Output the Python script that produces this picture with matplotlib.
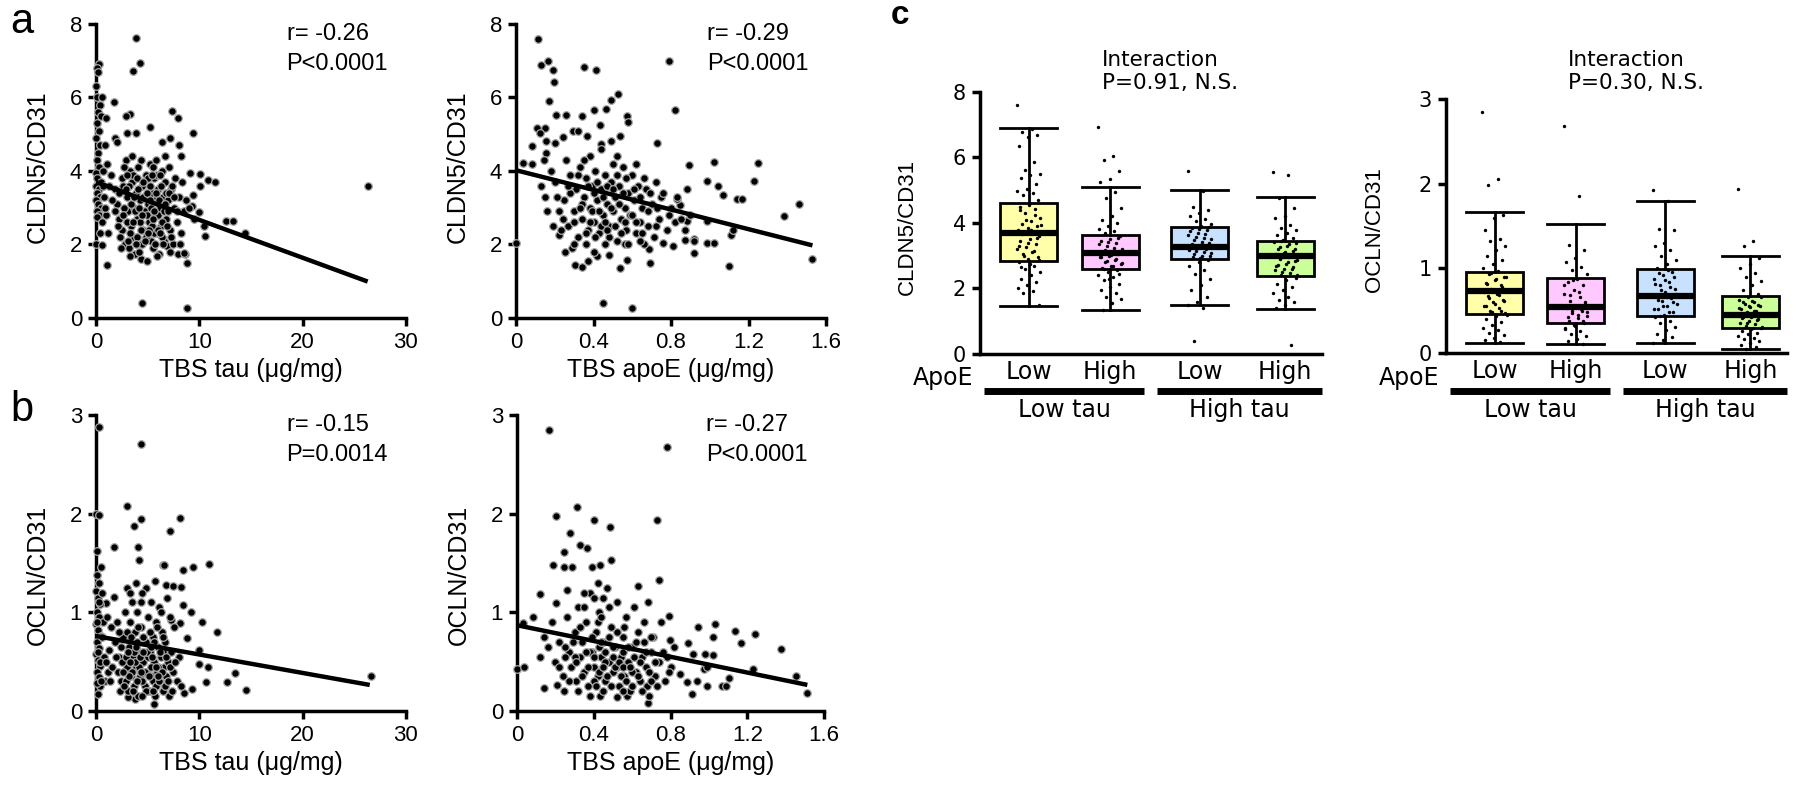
import numpy as np
import matplotlib
matplotlib.use("Agg")
import matplotlib.pyplot as plt

plt.rcParams['font.family'] = ['Liberation Sans', 'DejaVu Sans']

# ---- panel a left: TBS tau vs CLDN5/CD31 (x, y) ----
a1_points = [
    (0.3, 6.9), (0.1, 6.8), (0.2, 6.7), (0.05, 6.3), (0.15, 6.0), (0.4, 5.8), (0.2, 5.6), (0.5, 5.5),
    (0.1, 5.3), (0.3, 5.1), (0.05, 4.9), (0.4, 4.7), (0.2, 4.5), (0.1, 4.3), (0.3, 4.1), (0.05, 3.95),
    (0.15, 3.8), (0.5, 3.7), (0.0, 3.6), (0.25, 3.5), (0.1, 3.4), (0.35, 3.3), (0.05, 3.2), (0.2, 3.1),
    (0.45, 3.0), (0.1, 2.9), (0.3, 2.8), (0.15, 2.75), (0.0, 2.0), (0.6, 1.98), (1.0, 5.45), (0.9, 4.7),
    (0.7, 4.0), (0.8, 3.3), (0.6, 6.0),
    (1.5, 3.9), (1.8, 3.5), (2.0, 3.1), (2.2, 2.7), (2.5, 2.4), (2.6, 3.6), (2.8, 2.0), (3.0, 3.3),
    (3.1, 2.9), (3.2, 1.9), (3.3, 4.0), (3.4, 2.5), (3.5, 3.7), (3.6, 2.2), (3.7, 3.0), (3.8, 1.75),
    (3.9, 3.4), (4.0, 2.7), (4.1, 4.1), (4.2, 2.0), (4.3, 3.2), (4.4, 1.6), (4.5, 3.6), (4.6, 2.4),
    (4.7, 2.9), (4.8, 3.9), (4.9, 1.55), (5.0, 3.1), (5.1, 2.6), (5.2, 4.2), (5.3, 2.1), (5.4, 3.4),
    (5.5, 1.9), (5.6, 3.8), (5.7, 2.8), (5.8, 4.3), (5.9, 2.3), (6.0, 3.5), (6.1, 1.75), (6.2, 3.0),
    (6.3, 2.5), (6.4, 4.0), (6.5, 3.3), (6.6, 2.1), (6.7, 3.7), (6.8, 2.7), (6.9, 1.95), (7.0, 3.2),
    (7.1, 4.1), (7.2, 2.4), (7.3, 3.5), (7.5, 2.0), (7.6, 3.0), (7.7, 3.8), (7.8, 2.6), (7.9, 1.75),
    (8.0, 3.3), (8.2, 2.3), (8.3, 3.7), (8.5, 2.9), (8.6, 1.75), (1.2, 2.3), (1.0, 2.8), (2.4, 1.9),
    (2.9, 4.3), (3.5, 4.4), (4.4, 4.3), (5.5, 4.1), (6.7, 4.4), (2.7, 3.0), (3.2, 3.6), (3.8, 2.9),
    (4.1, 3.5), (4.3, 2.6), (4.6, 3.3), (4.9, 2.8), (5.2, 3.6), (5.4, 2.5), (5.7, 3.2), (6.0, 2.8),
    (6.3, 3.6), (6.6, 2.9), (3.3, 2.3), (4.0, 2.2), (4.8, 2.2), (5.6, 2.3), (6.4, 2.2), (2.2, 3.4),
    (1.8, 2.9), (2.5, 3.8), (3.6, 3.9), (5.0, 3.8), (5.9, 3.9), (7.4, 3.6), (7.0, 2.9), (3.0, 2.6),
    (4.5, 2.0), (5.3, 3.0), (6.8, 3.4),
    (2.3, 2.2), (2.6, 2.8), (2.9, 3.5), (3.1, 2.1), (3.4, 3.1), (3.6, 2.6), (3.9, 2.0), (4.0, 3.8),
    (4.2, 3.0), (4.4, 2.4), (4.6, 3.7), (4.7, 2.1), (4.9, 3.4), (5.1, 2.4), (5.2, 3.2), (5.4, 3.9),
    (5.5, 2.7), (5.7, 2.0), (5.8, 3.4), (6.0, 2.4), (6.1, 3.2), (6.2, 3.9), (6.4, 2.6), (6.5, 2.0),
    (6.7, 3.1), (6.9, 2.5), (7.1, 3.4), (7.3, 2.2), (7.6, 3.3), (7.8, 2.9), (3.0, 3.9), (3.7, 3.3),
    (4.5, 2.8), (5.0, 2.3), (5.6, 2.9), (6.2, 2.3), (2.1, 2.5), (1.6, 3.2), (1.3, 3.6), (0.9, 3.0),
    (0.6, 2.6), (0.4, 2.3), (0.7, 3.6), (1.1, 4.2), (2.7, 4.1), (4.2, 1.8), (5.9, 1.7), (3.3, 1.7),
    (7.2, 1.8), (8.1, 2.0),
    (3.87, 7.62), (4.3, 6.94), (3.6, 6.71), (1.74, 5.87), (3.3, 5.55), (2.9, 5.49), (7.4, 5.64),
    (7.9, 5.44), (5.2, 5.2), (9.35, 5.03), (3.9, 5.03), (2.97, 5.03), (1.8, 4.9), (2.0, 4.8), (7.2, 4.9),
    (6.35, 4.79), (8.0, 4.7), (8.2, 4.4), (10.06, 3.93), (9.1, 3.95), (10.8, 3.76), (11.5, 3.69),
    (10.06, 3.6), (26.3, 3.6), (9.4, 3.36), (9.26, 3.04), (10.0, 2.88), (12.6, 2.63), (13.3, 2.63),
    (10.5, 2.5), (10.6, 2.22), (14.4, 2.31), (8.8, 1.5), (8.5, 1.77), (1.03, 1.45), (4.5, 0.41),
    (8.8, 0.26), (9.0, 3.0), (8.7, 3.2), (9.5, 2.7),
]
a1_fit = (3.70, -0.103, 26.3)  # intercept, slope, last x

# ---- panel a right: TBS apoE vs CLDN5/CD31 ----
a2_points = [
    (0.115, 7.6), (0.167, 6.98), (0.13, 6.89), (0.193, 6.76), (0.196, 6.41), (0.35, 6.83), (0.413, 6.74),
    (0.787, 6.98), (0.172, 5.9), (0.528, 6.1), (0.489, 5.94), (0.82, 5.67), (0.40, 5.67), (0.465, 5.69),
    (0.571, 5.49), (0.58, 5.32), (0.207, 5.53), (0.26, 5.53), (0.34, 5.49), (0.434, 5.26), (0.107, 5.17),
    (0.15, 5.17), (0.124, 5.03), (0.155, 4.81), (0.155, 4.49), (0.2, 4.76), (0.296, 5.08), (0.32, 5.08),
    (0.365, 4.94), (0.537, 4.94), (0.489, 4.81), (0.244, 4.93), (0.73, 4.76), (0.44, 4.74), (0.08, 4.67),
    (0.038, 4.22), (0.084, 4.18), (0.145, 4.29), (0.895, 4.17), (1.02, 4.24), (1.25, 4.22), (1.23, 3.72),
    (0.988, 3.72), (1.04, 3.58), (1.07, 3.36), (1.14, 3.25), (1.165, 3.25), (1.46, 3.11), (1.385, 2.78),
    (1.527, 1.6), (1.1, 1.41), (0.916, 1.77), (0.985, 2.04), (1.02, 2.04), (1.11, 2.27), (1.12, 2.4),
    (0.92, 2.16), (0.873, 2.13), (0.985, 2.63), (0.0, 2.04), (0.22, 2.27), (0.253, 1.79), (0.305, 1.45),
    (0.342, 1.39), (0.37, 1.54), (0.447, 0.41), (0.6, 0.27), (0.534, 1.36), (0.417, 1.68), (0.482, 1.72),
    (0.571, 1.59), (0.69, 1.5), (0.688, 1.88), (0.76, 2.04), (0.81, 1.95), (0.88, 2.63), (0.847, 3.08),
    (0.83, 3.24),
    (0.25, 3.2), (0.27, 2.5), (0.28, 3.9), (0.3, 2.9), (0.31, 3.5), (0.32, 2.2), (0.33, 4.1), (0.34, 2.7),
    (0.35, 3.3), (0.36, 3.8), (0.37, 2.4), (0.38, 3.0), (0.39, 3.6), (0.4, 2.6), (0.41, 4.0), (0.42, 3.2),
    (0.43, 2.3), (0.44, 3.5), (0.45, 2.8), (0.46, 3.9), (0.47, 3.1), (0.48, 2.5), (0.49, 3.7), (0.5, 2.9),
    (0.51, 3.3), (0.52, 2.1), (0.53, 3.6), (0.54, 2.7), (0.55, 4.1), (0.56, 3.0), (0.57, 2.4), (0.58, 3.4),
    (0.59, 2.8), (0.6, 3.9), (0.61, 3.2), (0.62, 2.3), (0.63, 3.6), (0.64, 2.6), (0.65, 3.0), (0.66, 2.0),
    (0.67, 3.5), (0.68, 2.5), (0.7, 3.1), (0.71, 2.2), (0.72, 3.7), (0.74, 2.7), (0.75, 3.3), (0.78, 2.4),
    (0.8, 3.0), (0.82, 2.6), (0.85, 2.7), (0.88, 3.5), (0.9, 2.8), (0.92, 2.1), (0.2, 3.7), (0.22, 2.9),
    (0.18, 4.0), (0.15, 3.3), (0.13, 3.6), (0.16, 2.9), (0.23, 2.4), (0.26, 4.3), (0.38, 4.4), (0.44, 4.6),
    (0.52, 4.4), (0.62, 4.2), (0.29, 1.9), (0.4, 1.8), (0.46, 2.0), (0.56, 2.0), (0.64, 2.1), (0.36, 2.0),
    (0.28, 3.4), (0.3, 2.6), (0.32, 3.9), (0.34, 3.1), (0.36, 2.3), (0.37, 3.6), (0.39, 2.9), (0.4, 3.4),
    (0.41, 2.2), (0.42, 3.7), (0.43, 2.9), (0.44, 2.5), (0.45, 3.3), (0.46, 2.6), (0.47, 3.6), (0.48, 2.2),
    (0.49, 3.0), (0.5, 3.5), (0.51, 2.5), (0.52, 3.9), (0.53, 3.1), (0.54, 2.3), (0.55, 3.4), (0.56, 2.6),
    (0.57, 3.8), (0.58, 2.0), (0.6, 2.8), (0.61, 3.5), (0.62, 2.6), (0.64, 3.3), (0.65, 2.3), (0.66, 3.8),
    (0.68, 2.9), (0.69, 3.4), (0.72, 2.5), (0.73, 3.0), (0.76, 3.4), (0.79, 2.8), (0.83, 3.3), (0.87, 2.4),
    (0.33, 3.0), (0.38, 2.6), (0.47, 2.4), (0.5, 4.2), (0.35, 4.3), (0.27, 3.6), (0.24, 2.7), (0.21, 3.3),
    (0.19, 2.5), (0.3, 2.0),
]
a2_fit = (4.02, -1.336, 1.53)

# ---- panel b left: TBS tau vs OCLN/CD31 ----
b1_points = [
    (0.32, 2.875), (4.4, 2.71), (0.0, 2.0), (0.3, 1.99), (3.0, 2.08), (4.4, 1.95), (3.7, 1.875), (8.1, 1.96),
    (7.2, 1.82), (1.7, 1.66), (4.1, 1.66), (4.2, 1.53), (0.13, 1.62), (0.45, 1.46), (6.5, 1.48), (6.6, 1.48),
    (9.4, 1.46), (10.9, 1.49), (8.4, 1.43), (5.7, 1.32), (6.8, 1.28), (7.5, 1.27), (8.2, 1.26), (3.9, 1.3),
    (3.0, 1.25), (4.8, 1.25), (1.7, 1.16), (1.0, 1.09), (8.4, 1.07), (9.2, 1.0), (10.3, 0.9), (7.3, 0.92),
    (8.1, 0.89), (11.7, 0.8), (8.8, 0.74), (10.0, 0.62), (10.8, 0.45), (10.0, 0.48), (10.7, 0.29),
    (12.7, 0.29), (13.5, 0.39), (14.5, 0.21), (9.3, 0.22), (8.5, 0.18), (26.6, 0.36), (5.6, 0.07),
    (3.8, 0.12), (3.1, 0.145), (0.16, 0.17), (0.4, 0.25),
    (0.1, 1.38), (0.3, 1.3), (0.05, 1.22), (0.2, 1.15), (0.4, 1.08), (0.1, 1.0), (0.3, 0.95), (0.05, 0.88),
    (0.2, 0.82), (0.45, 0.76), (0.1, 0.7), (0.3, 0.64), (0.05, 0.58), (0.2, 0.52), (0.4, 0.46), (0.1, 0.4),
    (0.3, 0.34), (0.15, 0.28), (0.6, 1.2), (0.7, 0.9), (0.8, 0.55), (0.9, 0.3), (1.1, 0.95), (1.3, 0.62),
    (1.5, 0.85), (1.2, 0.4),
    (2.0, 0.9), (2.2, 0.55), (2.4, 0.3), (2.6, 0.75), (2.8, 1.0), (3.0, 0.45), (3.1, 0.2), (3.2, 0.65),
    (3.3, 0.9), (3.4, 0.35), (3.5, 1.1), (3.6, 0.55), (3.7, 0.25), (3.8, 0.8), (3.9, 0.45), (4.0, 1.0),
    (4.1, 0.15), (4.2, 0.6), (4.3, 0.35), (4.4, 0.85), (4.5, 1.2), (4.6, 0.5), (4.7, 0.25), (4.8, 0.7),
    (4.9, 0.4), (5.0, 0.95), (5.1, 0.2), (5.2, 0.6), (5.3, 1.1), (5.4, 0.35), (5.5, 0.75), (5.6, 0.5),
    (5.7, 0.15), (5.8, 0.9), (5.9, 0.4), (6.0, 0.65), (6.1, 1.05), (6.2, 0.3), (6.3, 0.55), (6.4, 0.8),
    (6.5, 0.2), (6.6, 0.45), (6.7, 0.7), (6.8, 0.35), (6.9, 1.15), (7.0, 0.5), (7.1, 0.15), (7.3, 0.6),
    (7.5, 0.4), (7.6, 0.85), (7.8, 0.3), (8.0, 0.55), (8.2, 0.25), (2.5, 0.5), (3.0, 0.8), (3.5, 0.4),
    (4.0, 0.7), (4.5, 0.3), (5.0, 0.55), (5.5, 0.3), (6.0, 0.45), (6.5, 0.6), (4.2, 0.45), (5.3, 0.45),
    (3.7, 0.6), (4.8, 0.2), (5.8, 0.25), (2.9, 0.3), (3.3, 1.2), (4.4, 1.1), (6.3, 1.0), (7.2, 0.95),
    (1.8, 0.7), (1.6, 0.45), (2.3, 0.2),
    (2.1, 0.4), (2.4, 0.65), (2.7, 0.25), (2.9, 0.55), (3.2, 0.35), (3.4, 0.75), (3.6, 0.2), (3.8, 0.5),
    (4.0, 0.3), (4.1, 0.85), (4.3, 0.55), (4.5, 0.15), (4.6, 0.75), (4.7, 0.4), (4.9, 0.6), (5.1, 0.35),
    (5.2, 0.8), (5.4, 0.55), (5.5, 0.2), (5.6, 0.7), (5.8, 0.45), (5.9, 0.85), (6.1, 0.3), (6.2, 0.6),
    (6.4, 0.4), (6.5, 0.75), (6.7, 0.25), (6.8, 0.55), (7.0, 0.3), (7.2, 0.45), (7.4, 0.2), (7.7, 0.5),
    (3.1, 0.6), (3.9, 0.65), (4.6, 0.6), (5.3, 0.65), (6.0, 0.35), (2.6, 0.4), (3.3, 0.5), (4.4, 0.4),
    (0.2, 0.6), (0.35, 0.5), (0.15, 0.9), (0.5, 0.3), (0.25, 1.1), (0.6, 0.75), (1.0, 0.5), (1.4, 0.3),
    (1.9, 0.55), (2.2, 0.8),
]
b1_fit = (0.76, -0.0187, 26.5)

# ---- panel b right: TBS apoE vs OCLN/CD31 ----
b2_points = [
    (0.165, 2.85), (0.783, 2.68), (0.312, 2.07), (0.203, 1.98), (0.402, 1.94), (0.485, 1.87), (0.728, 1.94),
    (0.277, 1.8), (0.326, 1.68), (0.367, 1.65), (0.243, 1.61), (0.489, 1.53), (0.187, 1.48), (0.246, 1.46),
    (0.286, 1.46), (0.39, 1.46), (0.433, 1.48), (0.74, 1.33), (0.633, 1.27), (0.26, 1.23), (0.118, 1.19),
    (0.685, 1.11), (0.203, 1.09), (0.083, 0.95), (0.031, 0.89), (0.79, 0.96), (0.945, 0.85), (1.03, 0.88),
    (1.135, 0.81), (1.24, 0.78), (1.02, 0.75), (1.165, 0.69), (1.374, 0.63), (0.797, 0.72), (0.893, 0.69),
    (0.918, 0.58), (0.98, 0.58), (1.02, 0.57), (0.974, 0.43), (0.99, 0.45), (1.23, 0.43), (1.106, 0.33),
    (1.066, 0.25), (1.09, 0.25), (0.99, 0.25), (0.913, 0.17), (1.456, 0.35), (1.513, 0.18), (0.0, 0.43),
    (0.035, 0.45), (0.142, 0.23), (0.208, 0.26), (0.243, 0.2), (0.433, 0.15), (0.381, 0.15), (0.685, 0.08),
    (0.688, 0.15), (0.575, 0.15), (0.523, 0.145), (0.884, 0.29), (0.85, 0.38), (0.936, 0.3),
    (0.12, 0.55), (0.14, 0.75), (0.16, 0.65), (0.18, 0.9), (0.2, 0.5), (0.22, 0.7), (0.24, 0.35), (0.26, 0.95),
    (0.27, 0.6), (0.28, 0.45), (0.3, 0.8), (0.31, 0.3), (0.32, 1.05), (0.33, 0.55), (0.34, 0.7), (0.35, 0.4),
    (0.36, 0.9), (0.37, 0.25), (0.38, 1.2), (0.39, 0.6), (0.4, 0.45), (0.41, 0.8), (0.42, 0.35), (0.43, 1.0),
    (0.44, 0.55), (0.45, 0.7), (0.46, 0.3), (0.47, 1.25), (0.48, 0.5), (0.49, 0.85), (0.5, 0.4), (0.51, 0.65),
    (0.52, 1.1), (0.53, 0.25), (0.54, 0.55), (0.55, 0.75), (0.56, 0.35), (0.57, 0.95), (0.58, 0.5), (0.59, 0.2),
    (0.6, 0.65), (0.61, 1.05), (0.62, 0.4), (0.63, 0.8), (0.64, 0.3), (0.65, 0.55), (0.66, 0.7), (0.67, 0.45),
    (0.68, 0.25), (0.7, 0.6), (0.71, 0.75), (0.72, 0.35), (0.74, 0.5), (0.75, 0.9), (0.77, 0.3), (0.78, 0.55),
    (0.8, 0.45), (0.82, 0.65), (0.35, 1.2), (0.42, 1.3), (0.45, 1.15), (0.38, 0.6), (0.46, 0.5), (0.52, 0.45),
    (0.43, 0.65), (0.55, 0.6), (0.5, 0.55), (0.4, 0.3), (0.6, 0.4), (0.3, 0.55), (0.25, 0.65), (0.66, 0.9),
    (0.7, 0.3),
    (0.22, 0.45), (0.25, 0.55), (0.27, 0.3), (0.29, 0.7), (0.31, 0.5), (0.33, 0.85), (0.34, 0.35), (0.36, 0.6),
    (0.37, 0.45), (0.39, 0.75), (0.4, 0.55), (0.41, 0.25), (0.42, 0.9), (0.43, 0.4), (0.44, 0.7), (0.45, 0.45),
    (0.46, 0.6), (0.47, 0.35), (0.48, 0.75), (0.49, 0.25), (0.5, 0.65), (0.51, 0.45), (0.52, 0.8), (0.53, 0.5),
    (0.54, 0.35), (0.55, 0.45), (0.56, 0.85), (0.57, 0.3), (0.58, 0.65), (0.59, 0.45), (0.6, 0.25), (0.61, 0.55),
    (0.62, 0.7), (0.63, 0.35), (0.64, 0.5), (0.65, 0.2), (0.67, 0.6), (0.69, 0.4), (0.7, 0.75), (0.72, 0.5),
    (0.73, 0.25), (0.76, 0.6), (0.79, 0.4), (0.35, 1.05), (0.4, 1.15), (0.44, 0.95), (0.48, 1.05), (0.32, 0.2),
    (0.45, 0.2), (0.55, 0.2),
]
b2_fit = (0.87, -0.40, 1.513)

# ---- panel c: box plots; groups = Low tau/Low apoE, Low tau/High apoE, High tau/Low apoE, High tau/High apoE ----
group_colors = ['#ffffaa', '#ffc8ff', '#c8e1ff', '#ccff99']
apoe_labels = ['Low', 'High', 'Low', 'High']
tau_labels = ['Low tau', 'High tau']

c1_q1 = [2.84, 2.60, 2.90, 2.38]
c1_med = [3.69, 3.08, 3.26, 2.99]
c1_q3 = [4.60, 3.63, 3.88, 3.45]
c1_lo = [1.47, 1.34, 1.51, 1.36]
c1_hi = [6.91, 5.11, 5.01, 4.80]
c1_dots = [
    [7.6, 6.88, 6.78, 6.7, 6.62, 6.35, 5.85, 5.62, 5.5, 5.45, 5.38, 5.2, 5.05, 4.98, 4.92, 4.85, 4.7, 4.6,
     4.5, 4.42, 4.3, 4.15, 4.05, 3.98, 3.92, 3.85, 3.78, 3.72, 3.68, 3.6, 3.52, 3.45, 3.35, 3.28, 3.2, 3.12,
     3.05, 2.96, 2.9, 2.82, 2.7, 2.6, 2.5, 2.42, 2.3, 2.2, 2.1, 2.0, 1.92, 1.85, 1.48,
     4.55, 4.4, 4.25, 4.1, 3.95, 3.8, 3.65, 3.55, 3.4, 3.3, 3.15, 3.0, 2.88, 2.75, 2.65],
    [6.94, 6.05, 5.92, 5.6, 5.35, 5.25, 4.95, 4.75, 4.45, 4.2, 4.1, 4.0, 3.9, 3.82, 3.75, 3.68, 3.6, 3.52,
     3.45, 3.38, 3.3, 3.22, 3.15, 3.1, 3.05, 3.0, 2.95, 2.88, 2.82, 2.75, 2.68, 2.62, 2.55, 2.5, 2.42, 2.35,
     2.25, 2.15, 2.05, 1.95, 1.85, 1.75, 1.68, 1.55, 1.34,
     3.55, 3.42, 3.35, 3.25, 3.18, 3.12, 3.02, 2.97, 2.9, 2.85, 2.78, 2.7, 2.6, 2.45, 2.3],
    [5.6, 4.98, 4.5, 4.4, 4.3, 4.22, 4.12, 4.05, 3.98, 3.92, 3.85, 3.78, 3.7, 3.62, 3.55, 3.48, 3.4, 3.32,
     3.27, 3.22, 3.15, 3.08, 3.0, 2.95, 2.88, 2.8, 2.7, 2.55, 2.45, 2.3, 2.1, 1.95, 1.75, 1.6, 1.51, 1.4, 0.41,
     3.88, 3.82, 3.75, 3.66, 3.58, 3.5, 3.42, 3.35, 3.3, 3.25, 3.18, 3.1, 3.04, 2.98, 2.92],
    [5.55, 5.45, 4.75, 4.45, 4.2, 4.15, 3.95, 3.85, 3.78, 3.7, 3.62, 3.55, 3.48, 3.42, 3.35, 3.28, 3.2, 3.12,
     3.05, 3.0, 2.95, 2.88, 2.8, 2.72, 2.65, 2.6, 2.55, 2.48, 2.4, 2.32, 2.25, 2.15, 2.05, 1.95, 1.85, 1.75,
     1.65, 1.58, 1.5, 1.4, 0.27,
     3.45, 3.38, 3.3, 3.22, 3.15, 3.08, 3.02, 2.97, 2.9, 2.84, 2.76, 2.68, 2.58, 2.5, 2.42],
]

c2_q1 = [0.457, 0.36, 0.437, 0.30]
c2_med = [0.73, 0.54, 0.67, 0.45]
c2_q3 = [0.96, 0.89, 0.99, 0.67]
c2_lo = [0.12, 0.106, 0.114, 0.043]
c2_hi = [1.67, 1.52, 1.795, 1.14]
c2_dots = [
    [2.85, 2.05, 1.98, 1.63, 1.6, 1.45, 1.35, 1.32, 1.26, 1.22, 1.15, 1.1, 1.05, 1.0, 0.97, 0.93, 0.9, 0.86,
     0.83, 0.8, 0.76, 0.73, 0.7, 0.67, 0.63, 0.6, 0.56, 0.53, 0.5, 0.47, 0.44, 0.4, 0.37, 0.33, 0.3, 0.27,
     0.24, 0.21, 0.18, 0.15, 0.13,
     0.95, 0.9, 0.87, 0.82, 0.78, 0.75, 0.72, 0.68, 0.65, 0.62, 0.58, 0.55, 0.5, 0.48, 0.45],
    [2.68, 1.85, 1.27, 1.22, 1.12, 1.08, 1.02, 0.98, 0.93, 0.88, 0.84, 0.8, 0.75, 0.7, 0.66, 0.62, 0.58,
     0.55, 0.53, 0.5, 0.47, 0.44, 0.41, 0.38, 0.35, 0.32, 0.29, 0.26, 0.23, 0.2, 0.17, 0.14, 0.11,
     0.86, 0.8, 0.72, 0.68, 0.6, 0.56, 0.54, 0.52, 0.5, 0.48, 0.45, 0.42, 0.38, 0.33, 0.28],
    [1.93, 1.79, 1.46, 1.45, 1.3, 1.26, 1.22, 1.15, 1.1, 1.05, 1.0, 0.96, 0.92, 0.88, 0.84, 0.8, 0.76, 0.72,
     0.68, 0.65, 0.62, 0.58, 0.55, 0.52, 0.48, 0.45, 0.42, 0.38, 0.35, 0.31, 0.27, 0.23, 0.19, 0.15, 0.12,
     0.98, 0.94, 0.9, 0.86, 0.82, 0.78, 0.74, 0.7, 0.66, 0.63, 0.6, 0.56, 0.52, 0.48, 0.44],
    [1.94, 1.32, 1.26, 1.12, 1.05, 1.0, 0.95, 0.9, 0.85, 0.8, 0.75, 0.7, 0.66, 0.63, 0.6, 0.58, 0.56, 0.54,
     0.52, 0.5, 0.48, 0.46, 0.44, 0.42, 0.4, 0.38, 0.36, 0.34, 0.32, 0.3, 0.28, 0.26, 0.24, 0.22, 0.2, 0.18,
     0.16, 0.14, 0.12, 0.1, 0.07, 0.05,
     0.66, 0.62, 0.6, 0.57, 0.55, 0.53, 0.5, 0.47, 0.45, 0.43, 0.41, 0.39, 0.35, 0.31, 0.29],
]

C_FONT = ['DejaVu Sans']


def style_axis(ax, lw=2.5, size=16):
    for s in ['top', 'right']:
        ax.spines[s].set_visible(False)
    for s in ['left', 'bottom']:
        ax.spines[s].set_linewidth(lw)
    ax.tick_params(direction='out', width=lw, length=6, labelsize=size, pad=4)


def scatter_panel(ax, points, fit, xmax, xticks, xticklabels, ymax, yticks, xlabel, ylabel, r_txt, p_txt,
                  ylab_y):
    xs = [p[0] for p in points]
    ys = [p[1] for p in points]
    ax.scatter(xs, ys, s=30, c='black', edgecolors='#a8a8a8', linewidths=0.9, clip_on=False, zorder=3)
    b0, b1, xend = fit
    fx = np.array([0.0, xend])
    ax.plot(fx, b0 + b1 * fx, color='black', lw=3.2, zorder=4, solid_capstyle='butt')
    ax.set_xlim(0, xmax)
    ax.set_ylim(0, ymax)
    ax.set_xticks(xticks)
    ax.set_xticklabels(xticklabels)
    ax.set_yticks(yticks)
    style_axis(ax)
    ax.set_xlabel(xlabel, fontsize=18, labelpad=4)
    ax.set_ylabel(ylabel, fontsize=18)
    ax.yaxis.set_label_coords(-0.15, ylab_y)
    ax.text(0.615, 0.965, r_txt, transform=ax.transAxes, fontsize=17, ha='left', va='center')
    ax.text(0.615, 0.865, p_txt, transform=ax.transAxes, fontsize=17, ha='left', va='center')


def jitter(n, spread):
    return ((np.arange(n) * 0.618034) % 1.0 - 0.5) * 2 * spread


def box_panel(ax, q1, med, q3, lo, hi, dots, ymax, yticks, ylabel, p_txt, bar_y, apoe_y, tau_y, txt_y):
    pos = [1, 2, 3.1, 4.15]
    stats = []
    for i in range(4):
        stats.append(dict(med=med[i], q1=q1[i], q3=q3[i], whislo=lo[i], whishi=hi[i], fliers=[]))
    bp = ax.bxp(stats, positions=pos, widths=0.7, capwidths=0.7, patch_artist=True, showfliers=False,
                boxprops=dict(linewidth=2, edgecolor='black'),
                medianprops=dict(color='black', linewidth=4.5, solid_capstyle='butt'),
                whiskerprops=dict(linewidth=2), capprops=dict(linewidth=2))
    for patch, col in zip(bp['boxes'], group_colors):
        patch.set_facecolor(col)
    for p, vals in zip(pos, dots):
        ax.scatter(p + jitter(len(vals), 0.15), vals, s=6, c='black', linewidths=0, zorder=5, clip_on=False)
    ax.set_xlim(0.4, 4.6)
    ax.set_ylim(0, ymax)
    ax.set_yticks(yticks)
    ax.set_xticks(pos)
    ax.set_xticklabels(apoe_labels, family=C_FONT)
    style_axis(ax, lw=2.5, size=15)
    for lab in ax.get_yticklabels():
        lab.set_family(C_FONT)
    ax.tick_params(axis='x', length=0, pad=4, labelsize=17)
    ax.set_ylabel(ylabel, fontsize=16)
    ax.yaxis.set_label_coords(-0.18, 0.485)
    tr = ax.get_xaxis_transform()
    ax.text(-0.02, apoe_y, 'ApoE', transform=ax.transAxes, fontsize=17, family=C_FONT, ha='right', va='center')
    for (x0, x1), lab in zip([(0.45, 2.42), (2.58, 4.6)], tau_labels):
        ax.plot([x0, x1], [bar_y, bar_y], transform=tr, color='black', lw=5, clip_on=False,
                solid_capstyle='butt')
        ax.text((x0 + x1) / 2, tau_y, lab, transform=tr, fontsize=17, family=C_FONT, ha='center', va='center')
    ax.text(1.9, txt_y[0], 'Interaction', transform=tr, fontsize=15.5, family=C_FONT, ha='left', va='center')
    ax.text(1.9, txt_y[1], p_txt, transform=tr, fontsize=15.5, family=C_FONT, ha='left', va='center')


fig = plt.figure(figsize=(18, 7.94), dpi=100)

ax_a1 = fig.add_axes([0.0533, 0.5995, 0.1722, 0.3703])
ax_a2 = fig.add_axes([0.2867, 0.5995, 0.1722, 0.3703])
ax_b1 = fig.add_axes([0.0533, 0.1045, 0.1722, 0.3728])
ax_b2 = fig.add_axes([0.2872, 0.1045, 0.1706, 0.3728])
ax_c1 = fig.add_axes([0.5444, 0.5542, 0.19, 0.33])
ax_c2 = fig.add_axes([0.8033, 0.5554, 0.1894, 0.3199])

tau_ticks = [0, 10, 20, 30]
apoe_ticks = [0, 0.4, 0.8, 1.2, 1.6]
apoe_ticklabels = ['0', '0.4', '0.8', '1.2', '1.6']

scatter_panel(ax_a1, a1_points, a1_fit, 30, tau_ticks, [str(t) for t in tau_ticks], 8, [0, 2, 4, 6, 8],
              'TBS tau (μg/mg)', 'CLDN5/CD31', 'r= -0.26', 'P<0.0001', 0.514)
scatter_panel(ax_a2, a2_points, a2_fit, 1.6, apoe_ticks, apoe_ticklabels, 8, [0, 2, 4, 6, 8],
              'TBS apoE (μg/mg)', 'CLDN5/CD31', 'r= -0.29', 'P<0.0001', 0.514)
scatter_panel(ax_b1, b1_points, b1_fit, 30, tau_ticks, [str(t) for t in tau_ticks], 3, [0, 1, 2, 3],
              'TBS tau (μg/mg)', 'OCLN/CD31', 'r= -0.15', 'P=0.0014', 0.46)
scatter_panel(ax_b2, b2_points, b2_fit, 1.6, apoe_ticks, apoe_ticklabels, 3, [0, 1, 2, 3],
              'TBS apoE (μg/mg)', 'OCLN/CD31', 'r= -0.27', 'P<0.0001', 0.46)

box_panel(ax_c1, c1_q1, c1_med, c1_q3, c1_lo, c1_hi, c1_dots, 8, [0, 2, 4, 6, 8], 'CLDN5/CD31',
          'P=0.91, N.S.', -0.141, -0.092, -0.214, (1.122, 1.036))
box_panel(ax_c2, c2_q1, c2_med, c2_q3, c2_lo, c2_hi, c2_dots, 3, [0, 1, 2, 3], 'OCLN/CD31',
          'P=0.30, N.S.', -0.15, -0.098, -0.224, (1.155, 1.064))

fig.text(22 / 1800, 1 - 22 / 794, 'a', fontsize=30, ha='center', va='center')
fig.text(22 / 1800, 1 - 410 / 794, 'b', fontsize=30, ha='center', va='center')
fig.text(900 / 1800, 1 - 15 / 794, 'c', fontsize=24, fontweight='bold', ha='center', va='center')

fig.savefig('out.png', dpi=100, facecolor='white')
